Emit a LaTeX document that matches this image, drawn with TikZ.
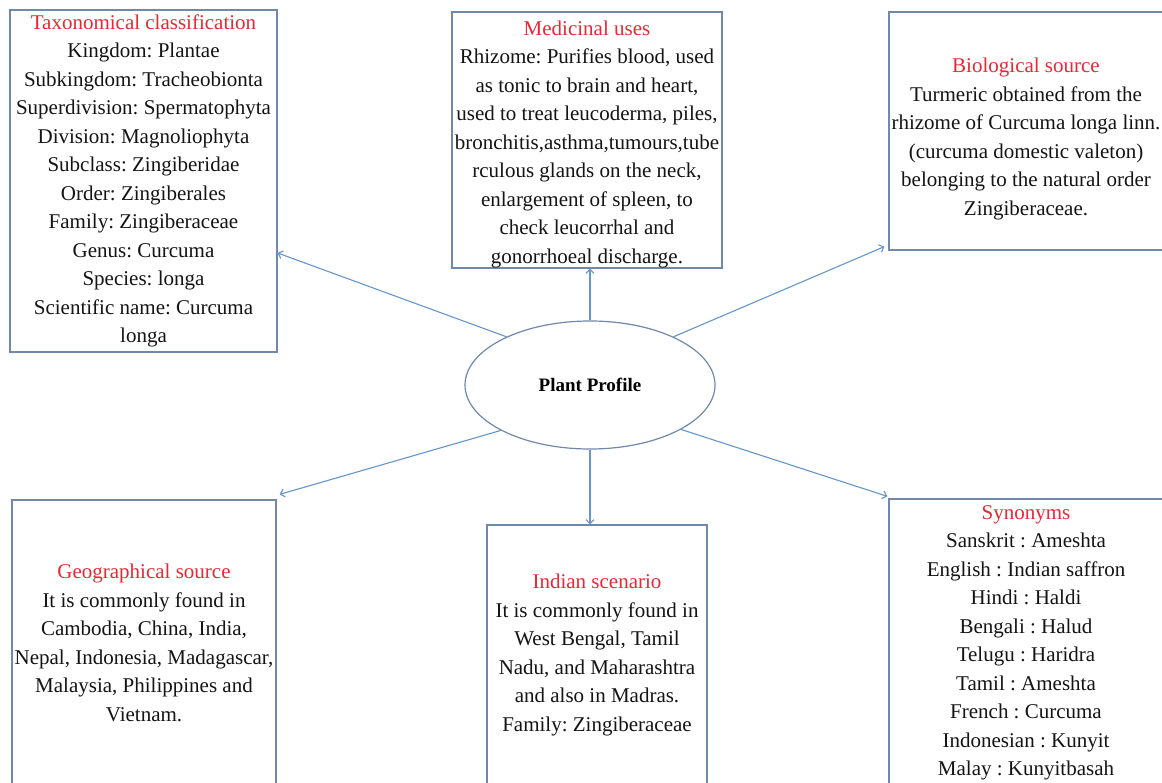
\documentclass[tikz,border=0pt]{standalone}
\usepackage{fontspec}
\IfFontExistsTF{LiberationSerif-Regular.ttf}{%
  \setmainfont{LiberationSerif}[Extension=.ttf, UprightFont=*-Regular, BoldFont=*-Bold, ItalicFont=*-Italic, BoldItalicFont=*-BoldItalic]}{%
  \setmainfont{Liberation Serif}}
\usetikzlibrary{arrows.meta,shapes.geometric}
\definecolor{boxc}{RGB}{112,136,170}
\definecolor{arrc}{RGB}{100,150,205}
\definecolor{titlec}{RGB}{232,40,52}
\definecolor{txtc}{RGB}{20,20,20}
\newcommand{\ttl}[1]{\textcolor{titlec}{#1}}
\newcommand{\topstrut}[1]{\rule{0pt}{#1}}
\tikzset{
  infobox/.style={draw=boxc, line width=1.3pt, rectangle, align=center, inner sep=0pt,
    text=txtc, font=\fontsize{21}{28.5}\selectfont\frenchspacing},
  hub/.style={draw=boxc, line width=1.2pt, ellipse, inner sep=0pt,
    minimum width=250pt, minimum height=128pt, font=\bfseries\fontsize{19}{22}\selectfont},
  link/.style={draw=arrc, line width=1.1pt, -{Straight Barb[length=4pt,width=8pt]}}
}
\begin{document}
\begin{tikzpicture}[x=1pt,y=-1pt]
\useasboundingbox (0,0) rectangle (1162,782);
\clip (0,0) rectangle (1162,782);
\fill[white] (0,0) rectangle (1162,782);

\node[infobox, minimum width=267pt, minimum height=342pt] (tax) at (143.5,181) {%
\ttl{Taxonomical classification}\\
Kingdom: Plantae\\
Subkingdom: Tracheobionta\\
Superdivision: Spermatophyta\\
Division: Magnoliophyta\\
Subclass: Zingiberidae\\
Order: Zingiberales\\
Family: Zingiberaceae\\
Genus: Curcuma\\
Species: longa\\
Scientific name: Curcuma\\
longa};

\node[infobox, minimum width=270pt, minimum height=256pt] (med) at (587,140) {%
\topstrut{23pt}\ttl{Medicinal uses}\\
Rhizome: Purifies blood, used\\
as tonic to brain and heart,\\
used to treat leucoderma, piles,\\
bronchitis,asthma,tumours,tube\\
rculous glands on the neck,\\
enlargement of spleen, to\\
check leucorrhal and\\
gonorrhoeal discharge.};

\node[infobox, minimum width=274pt, minimum height=238pt] (bio) at (1026,131) {%
\topstrut{31pt}\ttl{Biological source}\\
Turmeric obtained from the\\
rhizome of Curcuma longa linn.\\
(curcuma domestic valeton)\\
belonging to the natural order\\
Zingiberaceae.};

\node[infobox, minimum width=264pt, minimum height=286pt] (geo) at (144,643) {%
\ttl{Geographical source}\\
It is commonly found in\\
Cambodia, China, India,\\
Nepal, Indonesia, Madagascar,\\
Malaysia, Philippines and\\
Vietnam.};

\node[infobox, minimum width=220pt, minimum height=260pt] (ind) at (597,655) {%
\ttl{Indian scenario}\\
It is commonly found in\\
West Bengal, Tamil\\
Nadu, and Maharashtra\\
and also in Madras.\\
Family: Zingiberaceae};

\node[infobox, minimum width=274pt, minimum height=288pt] (syn) at (1026,643) {%
\ttl{Synonyms}\\
Sanskrit : Ameshta\\
English : Indian saffron\\
Hindi : Haldi\\
Bengali : Halud\\
Telugu : Haridra\\
Tamil : Ameshta\\
French : Curcuma\\
Indonesian : Kunyit\\
Malay : Kunyitbasah};

\node[hub] (pp) at (590,385) {Plant Profile};

\draw[link] (pp.150) -- (tax.east |- 0,253);
\draw[link] (pp.north) -- (pp.north |- med.south);
\draw[link] (pp.30) -- ([shift={(-4,-4)}]bio.south west);
\draw[link] (pp.207) -- ([shift={(3,-5)}]geo.north east);
\draw[link] (pp.south) -- (pp.south |- ind.north);
\draw[link] (pp.334) -- ([shift={(-1,-2)}]syn.north west);
\end{tikzpicture}
\end{document}
